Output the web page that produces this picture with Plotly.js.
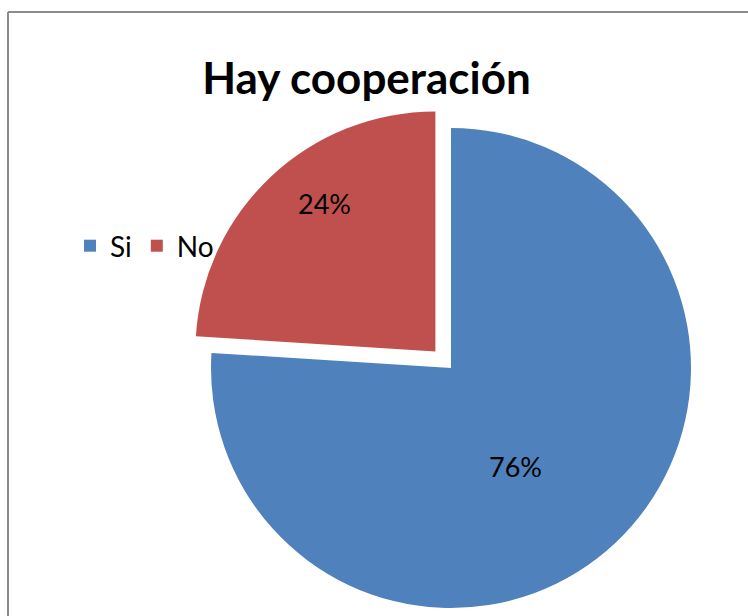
<!DOCTYPE html>
<html>
<head>
<meta charset="utf-8">
<script src="https://cdn.plot.ly/plotly-3.0.1.min.js"></script>
<style>
html, body { margin: 0; padding: 0; overflow: hidden; background: #fff; }
#chart { width: 748px; height: 680px; }
</style>
</head>
<body>
<div id="chart"></div>
<script>
// Data
var categories = ['Si', 'No'];
var shares = [76, 24];
var sliceColors = ['#4F81BD', '#C0504D'];
var chartTitle = 'Hay cooperación';

var W = 748, H = 680;
var FONT = 'Lato, "Open Sans", sans-serif';

// label anchor positions (pixels from top-left) – styling only
var labelPx = [[515, 466], [324, 203]];

var total = shares.reduce(function (a, b) { return a + b; }, 0);

var trace = {
  type: 'pie',
  labels: categories,
  values: shares,
  sort: false,
  direction: 'clockwise',
  rotation: 0,
  pull: [0, 0.095],
  marker: { colors: sliceColors, line: { width: 0 } },
  textinfo: 'none',
  hoverinfo: 'label+percent',
  domain: { x: [188.2 / W, 713.8 / W], y: [1 - 630.8 / H, 1 - 105.2 / H] }
};

var annotations = categories.map(function (c, i) {
  return {
    xref: 'paper', yref: 'paper',
    x: labelPx[i][0] / W, y: 1 - labelPx[i][1] / H,
    xanchor: 'center', yanchor: 'middle',
    text: Math.round(shares[i] / total * 100) + '%',
    showarrow: false,
    font: { family: FONT, size: 27, color: '#000000' }
  };
});

var layout = {
  width: W,
  height: H,
  margin: { l: 0, r: 0, t: 0, b: 0, pad: 0 },
  paper_bgcolor: '#ffffff',
  font: { family: FONT, color: '#000000' },
  title: {
    text: '<b>' + chartTitle + '</b>',
    font: { family: FONT, size: 44, color: '#000000' },
    x: 366.5 / W, xanchor: 'center', xref: 'paper',
    y: 1 - 79 / H, yanchor: 'middle', yref: 'container'
  },
  showlegend: true,
  legend: {
    orientation: 'h',
    x: 70 / W, xanchor: 'left',
    y: 1 - 246 / H, yanchor: 'middle',
    font: { family: FONT, size: 28, color: '#000000' },
    bgcolor: 'rgba(0,0,0,0)',
    traceorder: 'normal'
  },
  annotations: annotations,
  shapes: [
    { type: 'line', xref: 'paper', yref: 'paper', x0: 8 / W, x1: 1.2, y0: 1 - 12 / H, y1: 1 - 12 / H, line: { color: '#8c8c8c', width: 2 } },
    { type: 'line', xref: 'paper', yref: 'paper', x0: 8 / W, x1: 8 / W, y0: 1 - 12 / H, y1: -0.2, line: { color: '#8c8c8c', width: 2 } }
  ]
};

Plotly.newPlot('chart', [trace], layout, { displayModeBar: false, staticPlot: true });
</script>
</body>
</html>
